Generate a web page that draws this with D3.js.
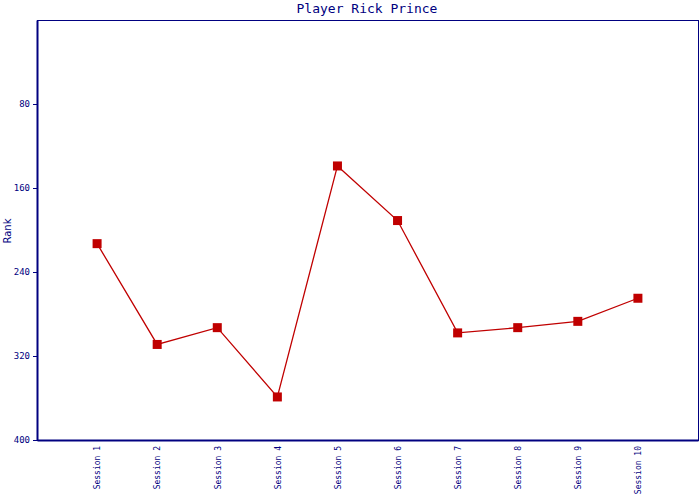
<!DOCTYPE html>
<html><head><meta charset="utf-8">
<script src="https://cdn.jsdelivr.net/npm/d3@7"></script>
<style>body{margin:0;background:#fff}</style>
</head><body>
<svg id="c" width="700" height="500"></svg>
<script>
const categories = ["Session 1","Session 2","Session 3","Session 4","Session 5","Session 6","Session 7","Session 8","Session 9","Session 10"];
const rankValues = [213, 309, 293, 359, 139, 191, 298, 293, 287, 265];
const yTicks = [80, 160, 240, 320, 400];
const title = "Player Rick Prince";
const yLabel = "Rank";

const navy = "#000080", red = "#c00000";
const svg = d3.select("#c");
const L = 37, R = 698, T = 20, B = 440;

const x = d3.scalePoint().domain(categories).range([L, R]).padding(1);
const y = d3.scaleLinear().domain([0, 400]).range([T, B]);

// frame
svg.append("rect").attr("x", L).attr("y", T).attr("width", R - L).attr("height", B - T)
  .attr("fill", "none").attr("stroke", navy).attr("stroke-width", 1).attr("shape-rendering", "crispEdges");

const yAxis = svg.append("g").attr("transform", `translate(${L},0)`)
  .call(d3.axisLeft(y).tickValues(yTicks).tickSize(4).tickSizeOuter(0).tickPadding(3));
yAxis.select(".domain").attr("stroke", navy).attr("stroke-width", 2);
yAxis.selectAll(".tick line").attr("stroke", navy).attr("shape-rendering", "crispEdges");
yAxis.selectAll("text").attr("fill", navy).style("font-family", "DejaVu Sans Mono, monospace").style("font-size", "9px");

const xAxis = svg.append("g").attr("transform", `translate(0,${B})`)
  .call(d3.axisBottom(x).tickSize(0).tickSizeOuter(0).tickPadding(0));
xAxis.select(".domain").attr("stroke", navy).attr("stroke-width", 2);
xAxis.selectAll("text").attr("fill", navy)
  .style("font-family", "DejaVu Sans Mono, monospace").style("font-size", "8px")
  .attr("transform", "rotate(-90)").attr("text-anchor", "end")
  .attr("x", -6).attr("y", 0).attr("dy", "0.35em");

svg.append("text").attr("x", 367).attr("y", 13).attr("text-anchor", "middle")
  .attr("fill", navy).style("font-family", "DejaVu Sans Mono, monospace").style("font-size", "13px").text(title);

svg.append("text").attr("transform", "translate(11,231) rotate(-90)").attr("text-anchor", "middle")
  .attr("fill", navy).style("font-family", "DejaVu Sans, sans-serif").style("font-size", "10px").text(yLabel);

const line = d3.line().x((d, i) => x(categories[i])).y(d => y(d));
svg.append("path").datum(rankValues).attr("d", line).attr("fill", "none").attr("stroke", red).attr("stroke-width", 1.3);

svg.selectAll("rect.pt").data(rankValues).enter().append("rect").attr("class", "pt")
  .attr("x", (d, i) => x(categories[i]) - 4.5).attr("y", d => y(d) - 4.5)
  .attr("width", 9).attr("height", 9).attr("fill", red);
</script>
</body></html>
